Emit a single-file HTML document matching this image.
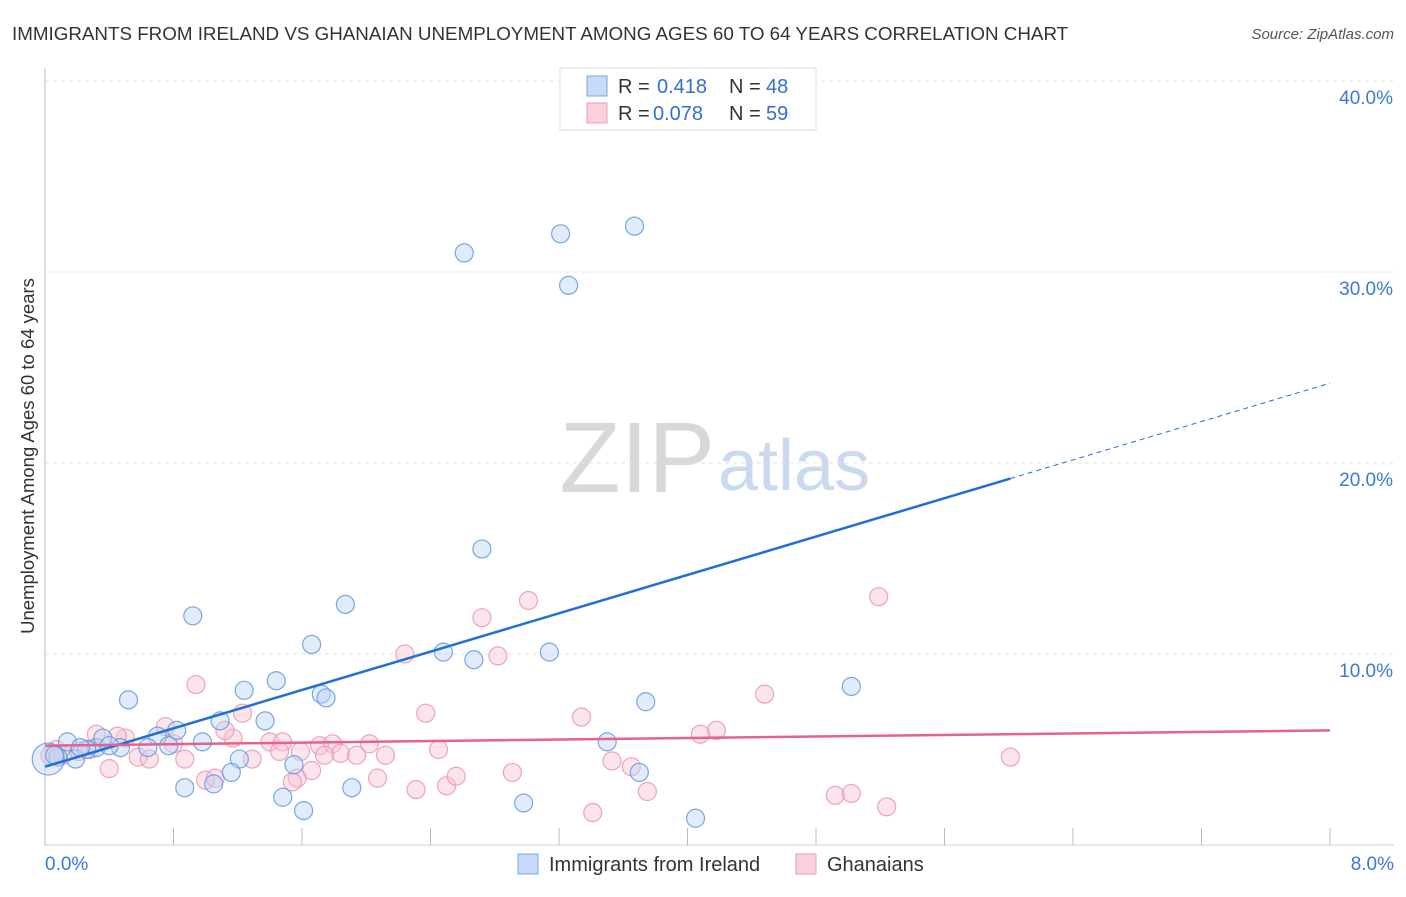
<!DOCTYPE html>
<html><head><meta charset="utf-8"><style>
body{margin:0;background:#fff;font-family:"Liberation Sans",sans-serif}
svg text{font-family:"Liberation Sans",sans-serif}
</style></head><body>
<svg id="c" width="1406" height="892" viewBox="0 0 1406 892">
<text x="12" y="40" font-size="18.8" fill="#333">IMMIGRANTS FROM IRELAND VS GHANAIAN UNEMPLOYMENT AMONG AGES 60 TO 64 YEARS CORRELATION CHART</text>
<text x="1394" y="39" font-size="15" fill="#555" font-style="italic" text-anchor="end">Source: ZipAtlas.com</text>
<text x="715" y="492" font-size="100" fill="#d8d8d8" font-family="Liberation Serif" text-anchor="end">ZIP</text>
<text x="718" y="490" font-size="72" fill="#c9d9ef">atlas</text>
<text transform="translate(34,456) rotate(-90)" font-size="18.5" fill="#333" text-anchor="middle">Unemployment Among Ages 60 to 64 years</text>
<g id="grid"></g><g id="marks"></g><g id="lines"></g>
<g>
<rect x="560" y="68" width="256" height="62" fill="#fff" stroke="#ddd"/>
<rect x="587" y="76" width="20" height="20" fill="#c6dbf5" stroke="#7aa6e0"/>
<rect x="587" y="103" width="20" height="20" fill="#fbd0dd" stroke="#ee9ab4"/>
<text x="618" y="93" font-size="20" fill="#333">R = </text>
<text x="657" y="93" font-size="20" fill="#2f6fd6">0.418</text>
<text x="729" y="93" font-size="20" fill="#333">N = </text>
<text x="766" y="93" font-size="20" fill="#2f6fd6">48</text>
<text x="618" y="120" font-size="20" fill="#333">R = </text>
<text x="653" y="120" font-size="20" fill="#2f6fd6">0.078</text>
<text x="729" y="120" font-size="20" fill="#333">N = </text>
<text x="766" y="120" font-size="20" fill="#2f6fd6">59</text>
</g>
<g>
<rect x="518" y="854" width="20" height="20" fill="#c6dbf5" stroke="#7aa6e0"/>
<text x="549" y="871" font-size="20" fill="#333">Immigrants from Ireland</text>
<rect x="796" y="854" width="20" height="20" fill="#fbd0dd" stroke="#ee9ab4"/>
<text x="827" y="871" font-size="20" fill="#333">Ghanaians</text>
</g>
</svg>
<script>
const xTicks=[0,0.8,1.6,2.4,3.2,4.0,4.8,5.6,6.4,7.2,8];
const yTicks=[10,20,30,40];
const blueX=[2.61,3.21,3.67,3.26,2.72,1.87,0.92,1.66,2.48,2.67,3.14,5.02,1.44,0.52,1.24,1.72,1.75,3.74,1.09,1.37,0.82,0.98,0.70,0.77,0.64,0.47,0.32,0.14,0.08,0.19,0.26,0.36,1.21,1.16,1.55,3.50,3.70,0.87,1.05,1.91,1.48,1.61,2.98,4.05,0.02,0.06,0.22,0.40];
const blueY=[31.0,32.0,32.4,29.3,15.5,12.6,12.0,10.5,10.1,9.7,10.1,8.3,8.6,7.6,8.1,7.9,7.7,7.5,6.5,6.5,6.0,5.4,5.7,5.2,5.1,5.1,5.1,5.4,4.6,4.5,5.0,5.6,4.5,3.8,4.2,5.4,3.8,3.0,3.2,3.0,2.5,1.8,2.2,1.4,4.5,4.7,5.1,5.2];
const pinkX=[3.01,5.19,2.72,0.94,2.24,2.82,4.48,2.37,3.34,4.18,4.08,1.23,0.75,0.32,0.50,0.45,1.17,1.40,1.48,1.71,1.79,2.02,2.45,1.84,1.94,2.12,1.29,0.87,0.58,0.65,0.40,1.66,1.57,1.00,1.06,2.31,2.50,2.56,2.07,2.91,3.53,3.65,3.75,3.41,4.92,5.02,5.24,6.01,0.07,0.03,0.11,0.21,0.28,0.80,1.12,1.59,1.74,1.54,1.46];
const pinkY=[12.8,13.0,11.9,8.4,10.0,9.9,7.9,6.9,6.7,6.0,5.8,6.9,6.2,5.8,5.6,5.7,5.6,5.4,5.4,5.2,5.3,5.3,5.0,4.8,4.7,4.7,4.5,4.5,4.6,4.5,4.0,3.9,3.5,3.4,3.5,2.9,3.1,3.6,3.5,3.8,4.4,4.1,2.8,1.7,2.6,2.7,2.0,4.6,5.0,4.7,4.7,4.9,5.0,5.3,6.0,4.9,4.7,3.3,4.9];
const blueFit=[4.1,2.51], pinkFit=[5.2,0.1];
const sx=v=>45+v*1285/8, sy=v=>845-v*19.1;
const NS='http://www.w3.org/2000/svg';
function mk(t,a,p){const e=document.createElementNS(NS,t);for(const k in a)e.setAttribute(k,a[k]);p.appendChild(e);return e;}
const grid=document.getElementById('grid'),marks=document.getElementById('marks'),lines=document.getElementById('lines');
let ax=mk('line',{x1:45,y1:68,x2:45,y2:845,stroke:'#bbb'},grid);


let bx=mk('line',{x1:45,y1:845,x2:1394,y2:845,stroke:'#ccc'},grid);


yTicks.forEach(v=>{
 const g=mk('line',{x1:45,y1:sy(v),x2:1394,y2:sy(v),stroke:'#e2e2e2','stroke-dasharray':'4,4'},grid);
 
 
 const t=mk('text',{x:1393,y:sy(v)+23,'font-size':19,fill:'#3b78d8','text-anchor':'end'},grid);t.textContent=v.toFixed(1)+'%';
 
 
});
xTicks.forEach(v=>{
 const l=mk('line',{x1:sx(v),y1:828,x2:sx(v),y2:845,stroke:'#bbb'},grid);
 
 
});
[[0,'0.0%','start',45],[8,'8.0%','end',1394]].forEach(([v,s,a,x])=>{
 const t=mk('text',{x:x,y:870,'font-size':19,fill:'#3b78d8','text-anchor':a},grid);t.textContent=s;
 
 
});
function pts(X,Y,fill,stroke,name){X.forEach((x,i)=>{
 const r=(name==='ireland-point'&&i===X.length-4)?16:9;
 const c=mk('circle',{cx:sx(x),cy:sy(Y[i]),r:r,fill:fill,'fill-opacity':0.45,stroke:stroke,'stroke-opacity':0.8,'stroke-width':1.2},marks);
 
 
});}
pts(pinkX,pinkY,'#f9c3d3','#eb8fae','ghanaians-point');
pts(blueX,blueY,'#bcd4f3','#5a92de','ireland-point');
let b1=mk('line',{x1:sx(0),y1:sy(blueFit[0]),x2:sx(6.01),y2:sy(blueFit[0]+blueFit[1]*6.01),stroke:'#1f6fd8','stroke-width':2.5},lines);


let b2=mk('line',{x1:sx(6.01),y1:sy(blueFit[0]+blueFit[1]*6.01),x2:sx(8),y2:sy(blueFit[0]+blueFit[1]*8),stroke:'#1f6fd8','stroke-width':1,'stroke-dasharray':'5,4'},lines);


let p1=mk('line',{x1:sx(0),y1:sy(pinkFit[0]),x2:sx(8),y2:sy(pinkFit[0]+pinkFit[1]*8),stroke:'#e8618c','stroke-width':2.5},lines);


</script>
</body></html>
